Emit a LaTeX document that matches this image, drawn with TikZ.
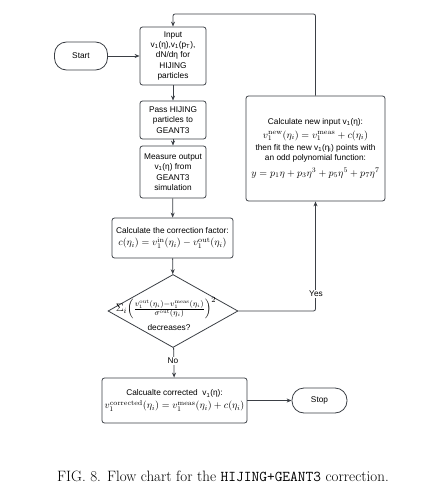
\documentclass[tikz,border=0pt]{standalone}
\usepackage{fontspec}
\usepackage{amsmath}
\newfontfamily\arial{Liberation Sans}
\usetikzlibrary{shapes.geometric,arrows.meta,calc}
\definecolor{lc}{HTML}{3B3F45}
\newcommand\mymath[1]{{\fontsize{10.2}{12}\selectfont$#1$}}
\begin{document}
\begin{tikzpicture}[x=1pt,y=-1pt,
  box/.style={draw=lc, line width=0.8pt, rounded corners=2.5pt, fill=white, align=center,
    font=\arial\fontsize{8.3}{10.4}\selectfont, inner sep=0pt},
  pill/.style={draw=lc, line width=0.8pt, rounded corners=12pt, fill=white,
    font=\arial\fontsize{8.3}{10.4}\selectfont, inner sep=0pt},
  arr/.style={draw=lc, line width=0.8pt, -{Stealth[length=5pt,width=4pt]}},
  lbl/.style={fill=white, inner sep=1pt, font=\arial\fontsize{8.3}{10}\selectfont},
]
\useasboundingbox (0,0) rectangle (443,503);

\node[pill, minimum width=53pt, minimum height=28pt] (start) at (81,56) {Start};
\node[box, minimum width=66pt, minimum height=58pt] (input) at (173,56)
  {Input\\ v\textsubscript{1}(η),v\textsubscript{1}(p\textsubscript{T}),\\ dN/dη for\\ HIJING\\ particles};
\node[box, minimum width=66pt, minimum height=38pt] (pass) at (173,120)
  {Pass HIJING\\ particles to\\ GEANT3};
\node[box, minimum width=66pt, minimum height=52pt] (measure) at (173,172)
  {Measure output\\ v\textsubscript{1}(η) from\\ GEANT3\\ simulation};
\node[box, minimum width=121pt, minimum height=40pt] (calc) at (172.5,238)
  {Calculate the correction factor:\\[1.5pt] \mymath{c(\eta_i)=v_1^{\mathrm{in}}(\eta_i)-v_1^{\mathrm{out}}(\eta_i)}};
\node[draw=lc, line width=0.8pt, diamond, fill=white, minimum width=130pt, minimum height=73pt, inner sep=0pt] (dia) at (173,311) {};
\node[inner sep=0pt] (formula) at (166,308)
  {\fontsize{11}{13}\selectfont$\Sigma_i\Big(\tfrac{v_1^{\mathrm{out}}(\eta_i)-v_1^{\mathrm{meas}}(\eta_i)}{\sigma^{\mathrm{out}}(\eta_i)}\Big)^2$};
\node[inner sep=0pt, font=\arial\fontsize{8.3}{10}\selectfont] (decr) at (169,328) {decreases?};
\node[box, minimum width=139pt, minimum height=105pt] (newbox) at (315.5,148.5)
  {Calculate new input v\textsubscript{1}(η):\\[3pt]
   \mymath{v_1^{\mathrm{new}}(\eta_i)=v_1^{\mathrm{meas}}+c(\eta_i)}\\[2pt]
   then fit the new v\textsubscript{1}(η\textsubscript{i}) points with\\
   an odd polynomial function:\\[5pt]
   \mymath{y=p_1\eta+p_3\eta^3+p_5\eta^5+p_7\eta^7}};
\node[box, minimum width=145pt, minimum height=45pt] (corr) at (174.5,400.5)
  {Calcualte corrected\ \ v\textsubscript{1}(η):\\[2.5pt]
   \mymath{v_1^{\mathrm{corrected}}(\eta_i)=v_1^{\mathrm{meas}}(\eta_i)+c(\eta_i)}};
\node[pill, minimum width=55pt, minimum height=25pt] (stop) at (319.5,400.5) {Stop};

\draw[arr] (start) -- (input);
\draw[arr] (input) -- (pass);
\draw[arr] (pass) -- (measure);
\draw[arr] (measure) -- (calc);
\draw[arr] (calc) -- (dia);
\draw[arr] (dia) -- (corr);
\draw[arr, rounded corners=2pt] (dia.east) -- (newbox.south |- dia.east) -- (newbox.south);
\draw[arr, rounded corners=2pt] (newbox.north) -- (newbox.north |- 0,14) -- (input.north |- 0,14) -- (input.north);
\draw[arr] (corr) -- (stop);
\node[lbl] (yes) at (316,294) {Yes};
\node[lbl] (no) at (173,361) {No};

\node[font=\fontsize{15}{17}\selectfont] (cap) at (223,476)
  {FIG. 8. Flow chart for the \texttt{HIJING+GEANT3} correction.};
\end{tikzpicture}
\end{document}
